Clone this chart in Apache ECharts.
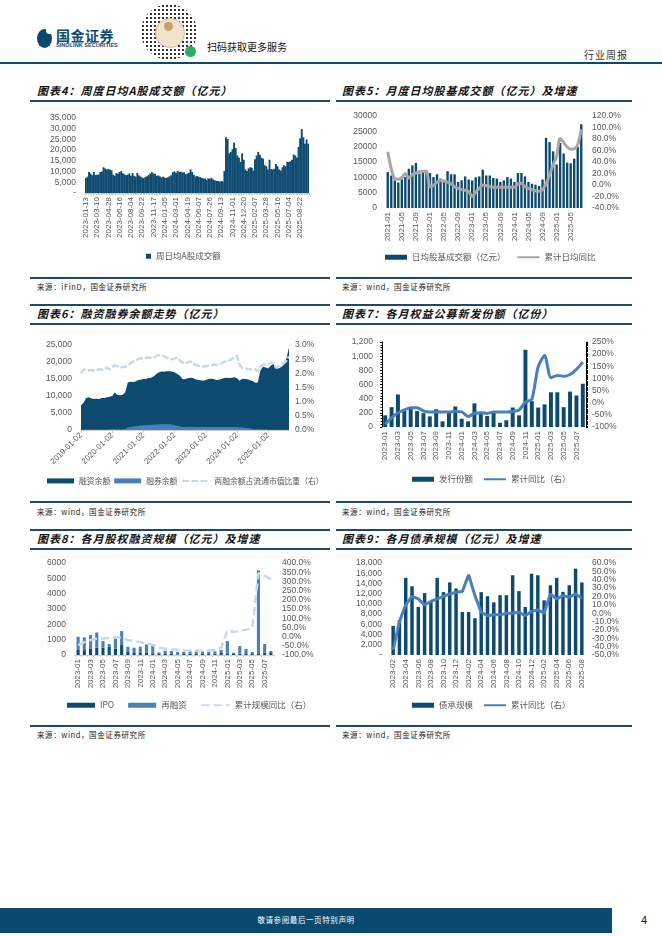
<!DOCTYPE html>
<html><head><meta charset="utf-8">
<script src="https://cdn.jsdelivr.net/npm/echarts@6.0.0/dist/echarts.min.js"></script>
<style>
html,body{margin:0;padding:0;background:#fff;}
body{width:662px;height:936px;position:relative;overflow:hidden;font-family:"Noto Sans CJK SC","Liberation Sans",sans-serif;}
.ab{position:absolute;}
.hl{position:absolute;height:1.5px;background:#1b4a6e;}
.ttl{position:absolute;font-family:"Noto Sans CJK SC";font-style:italic;font-weight:700;font-size:11px;line-height:16px;color:#111;white-space:nowrap;letter-spacing:1px;}
.src{position:absolute;font-family:"Noto Sans CJK SC";font-size:7.5px;line-height:10px;color:#222;letter-spacing:0.6px;white-space:nowrap;}
.ch{position:absolute;}
</style></head>
<body>
<!-- header -->
<div class="ab" style="left:37px;top:29px;width:15px;height:19px;border-radius:50%;background:#0b4a6f;"></div>
<div class="ab" style="left:46px;top:27px;width:7px;height:7px;border-radius:50%;background:#fff;"></div>
<div class="ab" style="left:56px;top:27px;font-size:14px;font-weight:700;color:#0b4a6f;line-height:16px;letter-spacing:0.5px;">国金证券</div>
<div class="ab" style="left:56px;top:42px;font-family:'Liberation Sans';font-size:5.6px;font-weight:700;color:#0b4a6f;line-height:7px;">SINOLINK SECURITIES</div>
<div class="ab" style="left:141px;top:4px;width:56px;height:56px;border-radius:50%;background:radial-gradient(circle,#333 0.9px,transparent 1.3px) 0 0/4px 4px;"></div>
<div class="ab" style="left:155px;top:18px;width:28px;height:28px;border-radius:50%;background:#f1e3d0;border:1px solid #d9b98f;"></div>
<div class="ab" style="left:164px;top:22px;width:9px;height:9px;border-radius:50%;background:#c8a06a;"></div>
<div class="ab" style="left:185px;top:46px;width:11px;height:11px;border-radius:50%;background:#2aae67;"></div>
<div class="ab" style="left:207px;top:40px;font-size:10px;line-height:14px;color:#111;">扫码获取更多服务</div>
<div class="ab" style="left:584px;top:48px;font-size:10px;line-height:14px;color:#333;letter-spacing:1px;">行业周报</div>
<div class="ab" style="left:0;top:62px;width:662px;height:2px;background:#0b4a6f;"></div>

<!-- block A -->
<div class="ttl" style="left:37px;top:82px;">图表4：周度日均A股成交额（亿元）</div>
<div class="ttl" style="left:342px;top:82px;">图表5：月度日均股基成交额（亿元）及增速</div>
<div class="hl" style="left:30px;top:100px;width:300px;"></div>
<div class="hl" style="left:336px;top:100px;width:296px;"></div>
<div class="hl" style="left:30px;top:277px;width:300px;"></div>
<div class="hl" style="left:336px;top:277px;width:296px;"></div>
<div class="src" style="left:37px;top:282px;">来源：iFinD，国金证券研究所</div>
<div class="src" style="left:342px;top:282px;">来源：wind，国金证券研究所</div>

<!-- block B -->
<div class="hl" style="left:30px;top:304px;width:300px;"></div>
<div class="hl" style="left:336px;top:304px;width:296px;"></div>
<div class="ttl" style="left:37px;top:305px;">图表6：融资融券余额走势（亿元）</div>
<div class="ttl" style="left:342px;top:305px;">图表7：各月权益公募新发份额（亿份）</div>
<div class="hl" style="left:30px;top:323px;width:300px;"></div>
<div class="hl" style="left:336px;top:323px;width:296px;"></div>
<div class="hl" style="left:30px;top:501px;width:300px;"></div>
<div class="hl" style="left:336px;top:501px;width:296px;"></div>
<div class="src" style="left:37px;top:507px;">来源：wind，国金证券研究所</div>
<div class="src" style="left:342px;top:507px;">来源：wind，国金证券研究所</div>

<!-- block C -->
<div class="hl" style="left:30px;top:529px;width:300px;"></div>
<div class="hl" style="left:336px;top:529px;width:296px;"></div>
<div class="ttl" style="left:37px;top:530px;">图表8：各月股权融资规模（亿元）及增速</div>
<div class="ttl" style="left:342px;top:530px;">图表9：各月债承规模（亿元）及增速</div>
<div class="hl" style="left:30px;top:548px;width:300px;"></div>
<div class="hl" style="left:336px;top:548px;width:296px;"></div>
<div class="hl" style="left:30px;top:725px;width:300px;"></div>
<div class="hl" style="left:336px;top:725px;width:296px;"></div>
<div class="src" style="left:37px;top:730px;">来源：wind，国金证券研究所</div>
<div class="src" style="left:342px;top:730px;">来源：wind，国金证券研究所</div>

<!-- footer -->
<div class="ab" style="left:0;top:908px;width:612px;height:25px;background:#0b4a6f;"></div>
<div class="ab" style="left:0;top:914px;width:612px;text-align:center;font-size:7.5px;line-height:12px;color:#fff;letter-spacing:0.6px;">敬请参阅最后一页特别声明</div>
<div class="ab" style="left:641px;top:913px;font-family:'Liberation Sans';font-size:11px;line-height:14px;color:#111;">4</div>

<div id="c4" class="ch" style="left:30px;top:100px;width:300px;height:175px;"></div>
<div id="c5" class="ch" style="left:335px;top:100px;width:300px;height:175px;"></div>
<div id="c6" class="ch" style="left:30px;top:323px;width:300px;height:178px;"></div>
<div id="c7" class="ch" style="left:335px;top:323px;width:300px;height:178px;"></div>
<div id="c8" class="ch" style="left:30px;top:548px;width:300px;height:175px;"></div>
<div id="c9" class="ch" style="left:335px;top:548px;width:300px;height:175px;"></div>

<script>
// ---------- data ----------
// Chart 4: weekly dates (trading weeks, Fridays), holiday-closed weeks skipped
const weekStart = '2023-01-13', weekEnd = '2025-09-26';
const closedWeeks = ['2023-01-27', '2023-10-06', '2024-02-16'];
const weekDates = (function () {
  const out = []; let t = Date.parse(weekStart + 'T00:00:00Z'); const e = Date.parse(weekEnd + 'T00:00:00Z');
  while (t <= e) { const s = new Date(t).toISOString().slice(0, 10); if (closedWeeks.indexOf(s) < 0) out.push(s); t += 7 * 864e5; }
  return out;
})();
const weeklyTurnover = [
  7000,7600,9800,9000,8300,9800,8400,8500,8600,9800,10000,12000,11500,11000,11200,10800,10500,8500,8000,9300,
  9000,9800,10200,9200,8700,8300,8600,9100,8000,9300,8000,7600,9400,8200,7700,7200,6900,7500,7800,8400,
  9000,9700,9100,8900,8000,8200,7700,7300,7600,7200,7000,7400,7800,8300,9700,10100,9300,10400,9800,10000,
  9600,9700,8800,9000,9400,11000,9800,8500,7700,7900,7600,7400,7000,6800,6700,6200,6800,6600,7100,6300,
  5900,5700,5600,5300,5600,5400,10300,26000,25200,18500,19200,20500,23500,21000,17500,16500,14500,18500,15500,11000,
  10300,11500,12000,11800,10500,15800,17500,19200,17800,16500,16000,13000,12500,11000,15500,11200,11000,11300,13500,12500,
  11000,10500,12000,13000,12500,14500,14500,14800,15500,18000,17500,16500,21500,25500,29800,26000,23000,25000,23000
];

// Chart 5: monthly 2021-01 .. 2025-08
const months5 = [];
for (let y = 2021; y <= 2025; y++) for (let m = 1; m <= 12; m++) { if (y === 2025 && m > 8) break; months5.push(y + '-' + String(m).padStart(2, '0')); }
const dailyTurnover5 = [
  11700,10600,9000,8300,9300,10100,12800,13900,14700,11200,11700,11700,
  11400,10100,11000,9600,8700,12000,11000,11000,8500,9000,10300,9300,
  9000,10000,10300,12500,10600,10600,9800,9600,8500,9000,10100,9600,
  8500,11400,11400,10300,8500,7900,7600,7200,9300,22900,21500,18500,
  14200,21200,17800,14800,14600,16100,19900,27300
];
const cumYoY5 = [
  58,28,11,10,13,20,12,18,21,23,24,24,
  -3,-1,5,8,7,5,2,-3,-6,-8,-9,-11,
  -20,-12,-6,0,-1,-3,-4,-4,-4,-4,-4,-4,
  -4,2,3,-3,-6,-8,-10,-11,-8,2,18,35,
  50,81,74,66,62,63,70,97
];

// Chart 6: monthly samples 2019-01 .. 2025-09
const dates6 = [];
for (let y = 2019; y <= 2025; y++) for (let m = 1; m <= 12; m++) { if (y === 2025 && m > 9) break; dates6.push(y + '-' + String(m).padStart(2, '0') + (m === 1 ? '-02' : '-01')); }
const marginFinance = [
  7300,8000,9400,9600,9300,9100,9200,9100,9400,9400,9600,9800,
  10000,11000,10300,10200,10400,11000,14000,14200,14100,14300,14700,14800,
  15000,15000,15300,15400,15800,16500,17000,17200,17100,17300,17300,17200,
  17000,16500,16000,15000,14900,15200,15400,15300,14900,14700,14600,14500,
  14700,15000,15100,15000,14700,14800,15000,15300,15400,15300,15400,15500,
  15200,14500,15100,15000,14900,14600,14400,13900,14000,17500,18600,18400,
  18100,19000,19400,18100,18100,18500,19200,21000,24300
];
const marginShort = [
  100,110,130,140,140,130,140,150,160,170,180,190,
  200,220,200,210,230,300,700,900,1000,1100,1200,1300,
  1400,1400,1500,1500,1600,1600,1700,1700,1700,1700,1700,1600,
  1400,1200,1000,900,900,950,950,950,900,900,900,900,
  900,900,900,900,850,850,900,900,900,850,850,850,
  800,700,700,650,600,500,300,250,200,200,150,130,
  110,100,100,100,100,100,100,100,100
];
const marginRatio = [
  2.0,2.14,2.12,2.1,2.12,2.1,2.1,2.15,2.12,2.14,2.2,2.14,
  2.22,2.28,2.25,2.2,2.22,2.24,2.28,2.35,2.42,2.46,2.5,2.53,
  2.52,2.55,2.56,2.55,2.56,2.6,2.65,2.62,2.6,2.55,2.52,2.5,
  2.52,2.55,2.45,2.38,2.33,2.38,2.42,2.35,2.3,2.27,2.24,2.24,
  2.25,2.27,2.28,2.3,2.3,2.32,2.35,2.4,2.42,2.45,2.5,2.6,
  2.62,2.3,2.2,2.18,2.15,2.14,2.13,2.14,2.06,2.24,2.3,2.3,
  2.32,2.38,2.36,2.2,2.25,2.3,2.35,2.45,2.6
];

// Charts 7, 8: monthly 2023-01 .. 2025-08 ; Chart 9: 2023-02 .. 2025-08
const months7 = [];
for (let y = 2023; y <= 2025; y++) for (let m = 1; m <= 12; m++) { if (y === 2025 && m > 8) break; months7.push(y + '-' + String(m).padStart(2, '0')); }
const months9 = months7.slice(1);
const fundIssue = [165,280,460,250,270,225,195,150,250,80,200,290, 117,80,333,190,155,200,60,95,275,165,1090,365, 275,320,490,490,280,500,445,610];
const fundYoY = [-89,-62,-41,-30,-21,-21,-34,-38,-38,-38,-38,-36, -38,-57,-44,-41,-44,-38,-38,-38,-36,-30,3,14, 148,194,103,112,109,116,137,167];
const ipo = [325,320,430,480,480,540,430,650,215,170,150,170, 110,65,65,65,40,65,85,85,65,65,85,150, 110,65,85,110,65,110,150,130];
const refin = [865,830,870,990,430,175,760,910,325,305,390,520, 580,105,215,195,155,150,155,155,150,150,155,175, 800,85,500,280,130,5410,565,130];
const equityYoY = [-46,-30,-19,-12,-10,-8,-6,-4,-20,-24,-30,-37, -46,-60,-66,-69,-72,-74,-75,-76,-76,-75,-70,-62, 35,25,32,38,45,345,330,312];
const bondUW = [5700,6800,15100,13450,9400,12100,10400,15100,12300,14200,13000, 8400,8400,7200,12300,11500,10300,11700,11700,15600,12500,9400,15900, 15600,10700,13650,15100,12350,13650,16900,14200];
const bondYoY = [-44,-10,10,20,17,10,14,17,20,23,25, 26,46,21,1,-3,-2,-2,0,0,1,-3,2, 4,0,23,17,21,19,23,18];

// ---------- styles ----------
const DARK = '#0d4a70', MID = '#4a7fbd', LIGHT = '#c5daee', GRAY = '#a6a6a6';
const FONT = '"Liberation Sans", Arial, "Noto Sans CJK SC", sans-serif';
const LBL = { color: '#595959', fontSize: 8.5, fontFamily: FONT };
const comma = v => v.toLocaleString('en-US');
const dashZero = v => v === 0 ? '-' : comma(v);
const NOSYM = { itemStyle: { opacity: 0 } };
function lineItem(name) { return Object.assign({ name: name }, NOSYM); }
function legendBase(left, top, extra) {
  return Object.assign({ left: left, top: top, padding: 0, itemWidth: 22, itemHeight: 5, itemGap: 10,
    textStyle: { color: '#595959', fontSize: 8.5, fontFamily: '"Noto Sans CJK SC", "Liberation Sans", sans-serif' } }, extra || {});
}
function catAxis(data, interval, rotate, extra) {
  return Object.assign({ type: 'category', data: data,
    axisLine: { show: true, lineStyle: { color: '#d0d0d0' } },
    axisTick: { show: false },
    axisLabel: Object.assign({ interval: interval, rotate: rotate, margin: 4 }, LBL, { fontSize: 8 }) }, extra || {});
}
function valAxis(min, max, interval, fmt, extra) {
  return Object.assign({ type: 'value', min: min, max: max, interval: interval,
    splitLine: { show: false }, axisLine: { show: false }, axisTick: { show: false },
    axisLabel: Object.assign({ formatter: fmt, margin: 9 }, LBL) }, extra || {});
}
function mk(id) { return echarts.init(document.getElementById(id), null, { renderer: 'canvas' }); }

// ---------- chart 4 ----------
mk('c4').setOption({
  animation: false,
  grid: { left: 55, top: 18, width: 224, height: 75 },
  legend: legendBase(116, 152, { itemWidth: 5, itemHeight: 5, data: [{ name: '周日均A股成交额', icon: 'rect' }] }),
  xAxis: catAxis(weekDates, 6, 90, { axisTick: { show: true, interval: 0, length: 2, lineStyle: { color: '#c8c8c8' } } }),
  yAxis: valAxis(0, 35000, 5000, dashZero),
  series: [{ name: '周日均A股成交额', type: 'bar', data: weeklyTurnover, barWidth: 1.9, itemStyle: { color: DARK } }]
});

// ---------- chart 5 ----------
mk('c5').setOption({
  animation: false,
  grid: { left: 51, top: 16, width: 197, height: 92 },
  legend: legendBase(50, 153, { itemGap: 11, data: [{ name: '日均股基成交额（亿元）', icon: 'rect' }, lineItem('累计日均同比')] }),
  xAxis: catAxis(months5, 3, 90, { axisLine: { show: false } }),
  yAxis: [valAxis(0, 30000, 5000, v => String(v)),
          valAxis(-40, 120, 20, v => v.toFixed(1) + '%', { position: 'right' })],
  series: [
    { name: '日均股基成交额（亿元）', type: 'bar', data: dailyTurnover5, barCategoryGap: '32%', itemStyle: { color: DARK } },
    { name: '累计日均同比', type: 'line', yAxisIndex: 1, data: cumYoY5, symbol: 'none', smooth: 0.3,
      lineStyle: { color: GRAY, width: 3 }, itemStyle: { color: GRAY } }
  ]
});

// ---------- chart 6 ----------
mk('c6').setOption({
  animation: false,
  grid: { left: 51, top: 22, width: 208, height: 85 },
  legend: legendBase(17, 154, { itemWidth: 27, itemGap: 4, width: 290,
    textStyle: { color: '#595959', fontSize: 7.8, fontFamily: '"Noto Sans CJK SC", sans-serif' },
    data: [{ name: '融资余额', icon: 'rect' }, { name: '融券余额', icon: 'rect' }, lineItem('两融余额占流通市值比重（右）')] }),
  xAxis: catAxis(dates6, 11, 45, { boundaryGap: false,
    axisTick: { show: true, interval: 11, length: 3, lineStyle: { color: '#c8c8c8' } } }),
  yAxis: [valAxis(0, 25000, 5000, v => comma(v)),
          valAxis(0, 3, 0.5, v => v.toFixed(1) + '%', { position: 'right', axisLabel: Object.assign({ formatter: v => v.toFixed(1) + '%', margin: 6 }, LBL) })],
  series: [
    { name: '融资余额', type: 'line', data: marginFinance, symbol: 'none', lineStyle: { width: 0 },
      areaStyle: { color: DARK, opacity: 1 }, itemStyle: { color: DARK } },
    { name: '融券余额', type: 'line', data: marginShort, symbol: 'none', lineStyle: { width: 0 },
      areaStyle: { color: MID, opacity: 1 }, itemStyle: { color: MID } },
    { name: '两融余额占流通市值比重（右）', type: 'line', yAxisIndex: 1, data: marginRatio, symbol: 'none',
      lineStyle: { color: LIGHT, width: 2.5, type: [7, 2] }, itemStyle: { color: LIGHT } }
  ]
});

// ---------- chart 7 ----------
mk('c7').setOption({
  animation: false,
  grid: { left: 47, top: 19, width: 204, height: 85 },
  legend: legendBase(77, 152, { itemGap: 10, data: [{ name: '发行份额', icon: 'rect' }, lineItem('累计同比（右）')] }),
  xAxis: catAxis(months7, 1, 90, { axisLine: { show: false } }),
  yAxis: [valAxis(0, 1200, 200, v => comma(v), { axisLine: { show: true, lineStyle: { color: '#000' } },
            axisTick: { show: true, length: 2, lineStyle: { color: '#000' } },
            minorTick: { show: true, splitNumber: 5, length: 1.5, lineStyle: { color: '#000' } } }),
          valAxis(-100, 250, 50, v => v + '%', { position: 'right', axisLine: { show: true, lineStyle: { color: '#000' } },
            axisTick: { show: true, length: 2, lineStyle: { color: '#000' } },
            minorTick: { show: true, splitNumber: 10, length: 2, lineStyle: { color: '#000' } },
            axisLabel: Object.assign({ formatter: v => v + '%', margin: 6 }, LBL) })],
  series: [
    { name: '发行份额', type: 'bar', data: fundIssue, barCategoryGap: '38%', itemStyle: { color: DARK } },
    { name: '累计同比（右）', type: 'line', yAxisIndex: 1, data: fundYoY, symbol: 'none', smooth: 0.25,
      lineStyle: { color: MID, width: 3 }, itemStyle: { color: MID } }
  ]
});

// ---------- chart 8 ----------
mk('c8').setOption({
  animation: false,
  grid: { left: 45, top: 15, width: 199, height: 92 },
  legend: legendBase(37, 153, { itemWidth: 28, itemGap: 14, data: [{ name: 'IPO', icon: 'rect' }, { name: '再融资', icon: 'rect' }, lineItem('累计规模同比（右）')] }),
  xAxis: catAxis(months7, 1, 90, { axisTick: { show: true, interval: 0, length: 2, lineStyle: { color: '#d0d0d0' } } }),
  yAxis: [valAxis(0, 6000, 1000, v => String(v)),
          valAxis(-100, 400, 50, v => v.toFixed(1) + '%', { position: 'right', axisLabel: Object.assign({ formatter: v => v.toFixed(1) + '%', margin: 8 }, LBL) })],
  series: [
    { name: 'IPO', type: 'bar', stack: 'eq', data: ipo, barCategoryGap: '50%', itemStyle: { color: DARK } },
    { name: '再融资', type: 'bar', stack: 'eq', data: refin, itemStyle: { color: MID } },
    { name: '累计规模同比（右）', type: 'line', yAxisIndex: 1, data: equityYoY, symbol: 'none',
      lineStyle: { color: LIGHT, width: 2.5, type: [8, 4] }, itemStyle: { color: LIGHT } }
  ]
});

// ---------- chart 9 ----------
mk('c9').setOption({
  animation: false,
  grid: { left: 55, top: 15, width: 195, height: 92 },
  legend: legendBase(77, 153, { itemGap: 10, data: [{ name: '债承规模', icon: 'rect' }, lineItem('累计同比（右）')] }),
  xAxis: catAxis(months9, 1, 90, { axisLine: { show: false } }),
  yAxis: [valAxis(0, 18000, 2000, dashZero, { axisLabel: Object.assign({ formatter: dashZero, margin: 8 }, LBL) }),
          valAxis(-50, 60, 10, v => v.toFixed(1) + '%', { position: 'right', axisLabel: Object.assign({ formatter: v => v.toFixed(1) + '%', margin: 7 }, LBL) })],
  series: [
    { name: '债承规模', type: 'bar', data: bondUW, barCategoryGap: '45%', itemStyle: { color: DARK } },
    { name: '累计同比（右）', type: 'line', yAxisIndex: 1, data: bondYoY, symbol: 'none',
      lineStyle: { color: MID, width: 3 }, itemStyle: { color: MID } }
  ]
});
</script>
</body></html>
